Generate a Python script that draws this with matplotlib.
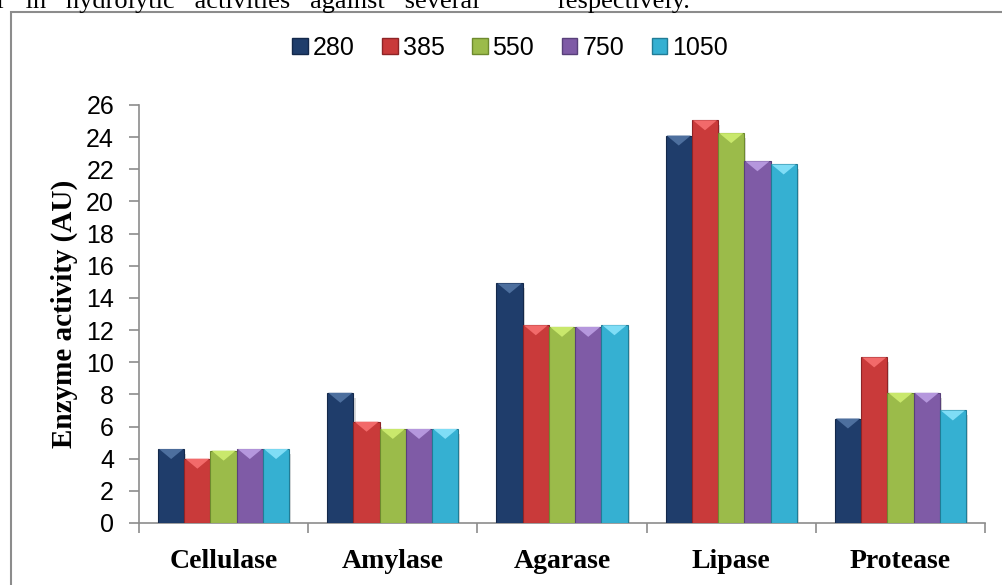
import numpy as np
import matplotlib.pyplot as plt
from matplotlib.patches import Polygon, Rectangle, Patch

# data
enzymes = ["Cellulase", "Amylase", "Agarase", "Lipase", "Protease"]
series_names = ["280", "385", "550", "750", "1050"]
act_280 = [4.6, 8.1, 14.9, 24.1, 6.5]
act_385 = [4.0, 6.3, 12.3, 25.05, 10.3]
act_550 = [4.5, 5.85, 12.2, 24.25, 8.1]
act_750 = [4.6, 5.85, 12.2, 22.5, 8.1]
act_1050 = [4.6, 5.85, 12.3, 22.3, 7.0]
yticks = list(range(0, 27, 2))

series = [act_280, act_385, act_550, act_750, act_1050]
faces = ["#1F3D6B", "#C93A3A", "#9BBB4A", "#7F5BA6", "#35B0D2"]
edges = ["#13284A", "#8E2426", "#6E8A2E", "#58407A", "#217C96"]
lights = ["#4D6F9E", "#F26A6A", "#C9E86C", "#B597DD", "#7FDDF6"]

W, H = 1002, 585
fig = plt.figure(figsize=(W / 100, H / 100), dpi=100)
ax = fig.add_axes([139 / W, 1 - 523 / H, (985 - 139) / W, (523 - 105) / H])

sans = "Liberation Sans"
serif = "Liberation Serif"

x = np.arange(len(enzymes))
bw = 0.155
offsets = (np.arange(len(series)) - (len(series) - 1) / 2) * bw

# units per pixel for the bevel depth
ypx = 26 / (523 - 105)

for i, vals in enumerate(series):
    bars = ax.bar(x + offsets[i], vals, bw, color=faces[i], edgecolor=edges[i],
                  linewidth=0.8, zorder=3)
    for r in bars:
        x0, w, h = r.get_x(), r.get_width(), r.get_height()
        # soft shadow on right side
        ax.add_patch(Rectangle((x0 + w, 0), w * 0.08, h - 0.3, facecolor="#d9d9d9",
                               edgecolor="none", zorder=2))
        # bevel triangle at top
        tri = Polygon([(x0 + 0.04 * w, h), (x0 + 0.96 * w, h), (x0 + w / 2, h - 10 * ypx)],
                      closed=True, facecolor=lights[i], edgecolor="none", zorder=4)
        ax.add_patch(tri)

ax.set_xlim(-0.5, len(enzymes) - 0.5)
ax.set_ylim(0, 26)
ax.set_yticks(yticks)
ax.set_yticklabels([str(t) for t in yticks], fontsize=18, family=sans)
ax.set_xticks(x)
ax.set_xticklabels(enzymes, fontsize=20, family=serif, fontweight="bold")
ax.set_xticks(np.arange(len(enzymes) + 1) - 0.5, minor=True)
ax.tick_params(axis="x", which="major", length=0, pad=19)
ax.tick_params(axis="x", which="minor", length=7, width=1.2, color="#8c8c8c")
ax.tick_params(axis="y", length=7, width=1.2, color="#8c8c8c", pad=11)

for s in ["top", "right"]:
    ax.spines[s].set_visible(False)
for s in ["left", "bottom"]:
    ax.spines[s].set_color("#8c8c8c")
    ax.spines[s].set_linewidth(1.2)

ax.set_ylabel("Enzyme activity (AU)", fontsize=21, family=serif, fontweight="bold",
              labelpad=6)

handles = [Patch(facecolor=faces[i], edgecolor=edges[i], label=series_names[i])
           for i in range(len(series))]
fig.legend(handles=handles, loc="center", bbox_to_anchor=(510 / W, 1 - 48 / H), ncol=5,
           frameon=False, prop={"family": sans, "size": 18}, handlelength=0.62,
           handleheight=0.62, handletextpad=0.2, columnspacing=1.1)

# outer frame of the figure box
fig.add_artist(Rectangle((11 / W, -0.1), 1.2, 1.1 - 12 / H, transform=fig.transFigure,
                         facecolor="none", edgecolor="#8c8c8c", linewidth=1.5))

# clipped body text above the frame
fig.text(-3 / W, 1 - 8 / H, "r   in   hydrolytic   activities   against   several",
         fontsize=19, family=serif, va="baseline")
fig.text(558 / W, 1 - 8 / H, "respectively.", fontsize=19, family=serif, va="baseline")

plt.savefig("out.png", dpi=100)
